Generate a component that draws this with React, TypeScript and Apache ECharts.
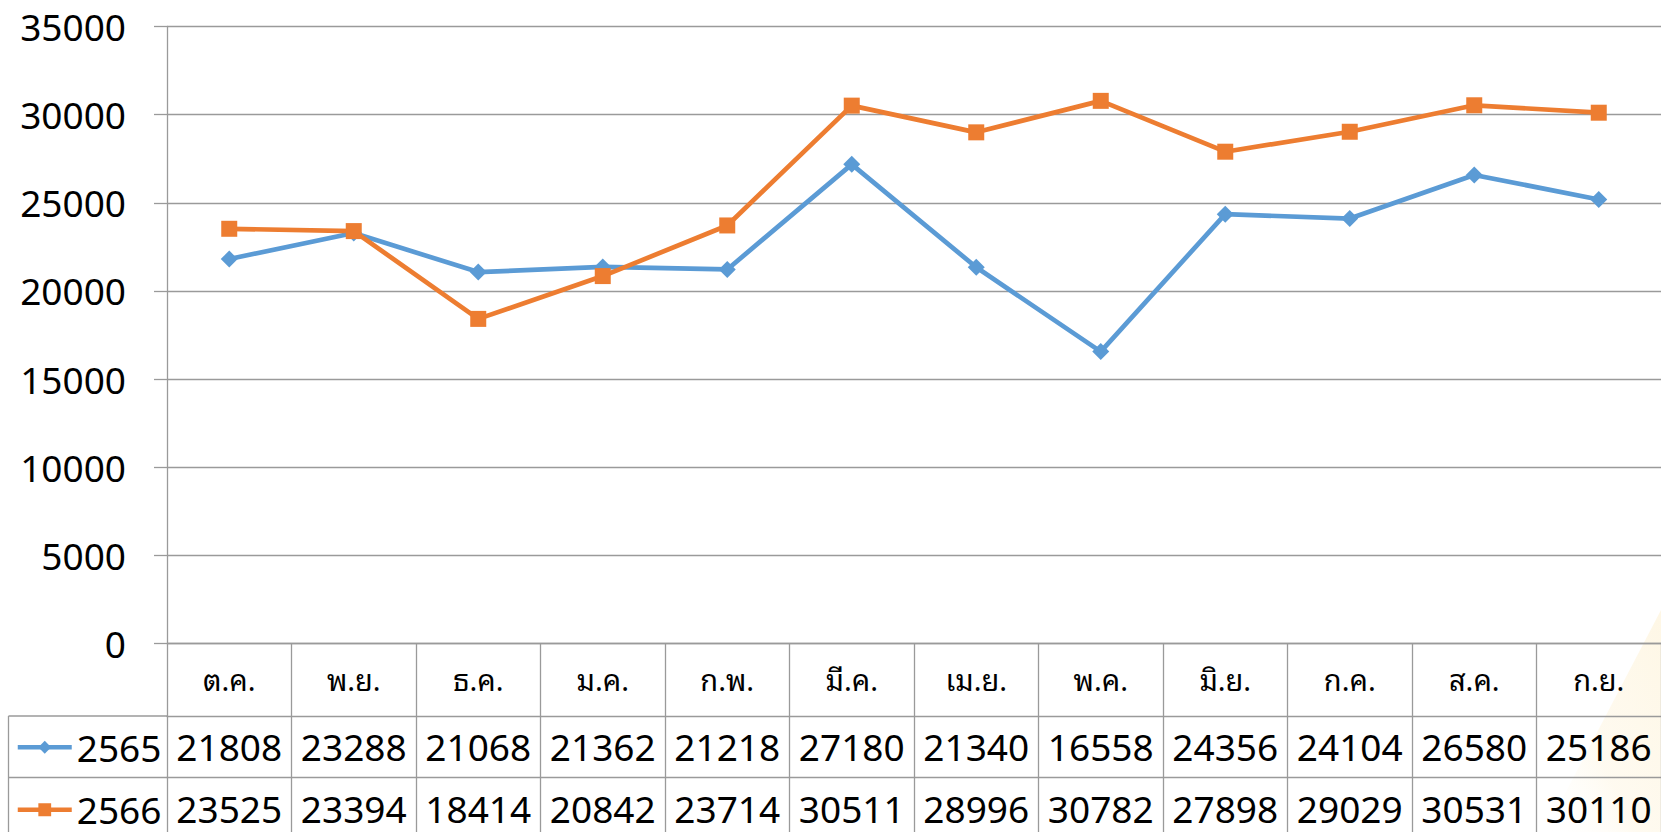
import React, { useEffect, useRef } from "react";
import * as echarts from "echarts";

const months = ["ต.ค.", "พ.ย.", "ธ.ค.", "ม.ค.", "ก.พ.", "มี.ค.", "เม.ย.", "พ.ค.", "มิ.ย.", "ก.ค.", "ส.ค.", "ก.ย."];
const seriesNames = ["2565", "2566"];
const values2565 = [21808, 23288, 21068, 21362, 21218, 27180, 21340, 16558, 24356, 24104, 26580, 25186];
const values2566 = [23525, 23394, 18414, 20842, 23714, 30511, 28996, 30782, 27898, 29029, 30531, 30110];
const yMin = 0;
const yMax = 35000;
const yStep = 5000;

const BLUE = "#5b9bd5";
const ORANGE = "#ed7d31";
const GRAY = "#9a9a9a";
const NUM_FONT = "'Noto Sans', 'Open Sans', sans-serif";
const THAI_FONT = "'Noto Sans Thai Looped', 'Noto Sans Thai', Tahoma, 'Noto Sans', sans-serif";

const W = 1661;
const H = 832;
const GRID_LEFT = 167;
const GRID_TOP = 26.5;
const GRID_BOTTOM_Y = 643.5;
const COL_W = 125.4;
const CAT_ROW_H = 72.5;
const DATA_ROW_H = 61.5;

export default function App() {
  const ref = useRef<HTMLDivElement>(null);
  useEffect(() => {
    if (!ref.current) return;
    const chart = echarts.init(ref.current, null, { renderer: "svg" });
    const row1Y = GRID_BOTTOM_Y + CAT_ROW_H;
    const row2Y = row1Y + DATA_ROW_H;
    const tableAxis = (data: string[], offset: number, tickLen: number, fontSize: number, family: string, margin: number) => ({
      type: "category",
      gridIndex: 0,
      position: "bottom",
      offset,
      data,
      boundaryGap: true,
      axisLine: { show: true, lineStyle: { color: GRAY, width: 1.3 } },
      axisTick: { show: true, length: tickLen, interval: 0, lineStyle: { color: GRAY, width: 1.3 } },
      axisLabel: {
        interval: 0,
        margin,
        fontSize,
        lineHeight: fontSize,
        fontFamily: family,
        color: "#000",
        verticalAlign: "middle",
      },
      splitLine: { show: false },
    });
    chart.setOption({
      animation: false,
      backgroundColor: "#ffffff",
      grid: {
        left: GRID_LEFT,
        top: GRID_TOP,
        width: COL_W * months.length,
        height: GRID_BOTTOM_Y - GRID_TOP,
        containLabel: false,
      },
      legend: {
        orient: "vertical",
        left: 15.5,
        top: row1Y + DATA_ROW_H / 2 - 18,
        padding: 0,
        itemWidth: 54,
        itemHeight: 16,
        itemGap: DATA_ROW_H - 36,
        data: seriesNames,
        lineStyle: { width: 4.5 },
        textStyle: { fontSize: 37, fontFamily: NUM_FONT, color: "#000", lineHeight: 36 },
      },
      xAxis: [
        tableAxis(months, 0, CAT_ROW_H, 29, THAI_FONT, CAT_ROW_H / 2 - 2),
        tableAxis(values2565.map(String), CAT_ROW_H, DATA_ROW_H, 37, NUM_FONT, DATA_ROW_H / 2),
        tableAxis(values2566.map(String), CAT_ROW_H + DATA_ROW_H, DATA_ROW_H + 10, 37, NUM_FONT, DATA_ROW_H / 2),
      ],
      yAxis: {
        type: "value",
        min: yMin,
        max: yMax,
        interval: yStep,
        axisLine: { show: true, lineStyle: { color: GRAY, width: 1.3 } },
        axisTick: { show: true, length: 13, lineStyle: { color: GRAY, width: 1.3 } },
        axisLabel: {
          fontSize: 37,
          fontFamily: NUM_FONT,
          color: "#000",
          margin: 41,
          formatter: (v: number) => String(v),
        },
        splitLine: { show: true, lineStyle: { color: GRAY, width: 1.3 } },
      },
      series: [
        {
          name: seriesNames[0],
          type: "line",
          xAxisIndex: 0,
          data: values2565,
          symbol: "diamond",
          symbolSize: 17,
          showAllSymbol: true,
          itemStyle: { color: BLUE },
          lineStyle: { color: BLUE, width: 4.7 },
        },
        {
          name: seriesNames[1],
          type: "line",
          xAxisIndex: 0,
          data: values2566,
          symbol: "rect",
          symbolSize: 16,
          showAllSymbol: true,
          itemStyle: { color: ORANGE },
          lineStyle: { color: ORANGE, width: 4.7 },
        },
      ],
      graphic: [
        {
          type: "polygon",
          z: -10,
          silent: true,
          shape: { points: [[W, 610], [W, H], [1545, H]] },
          style: {
            fill: new echarts.graphic.LinearGradient(1, 0, 0, 1, [
              { offset: 0, color: "rgba(252,228,170,0.3)" },
              { offset: 0.6, color: "rgba(253,236,195,0.25)" },
              { offset: 1, color: "rgba(255,255,255,0)" },
            ]),
          },
        },
        {
          type: "line",
          silent: true,
          shape: { x1: 8.5, y1: row1Y, x2: GRID_LEFT, y2: row1Y },
          style: { stroke: GRAY, lineWidth: 1.3 },
        },
        {
          type: "line",
          silent: true,
          shape: { x1: 8.5, y1: row2Y, x2: GRID_LEFT, y2: row2Y },
          style: { stroke: GRAY, lineWidth: 1.3 },
        },
        {
          type: "line",
          silent: true,
          shape: { x1: 8.5, y1: row1Y, x2: 8.5, y2: H + 20 },
          style: { stroke: GRAY, lineWidth: 1.3 },
        },
      ],
    });
    return () => chart.dispose();
  }, []);
  return (
    <div
      ref={ref}
      style={{ position: "absolute", left: 0, top: 0, width: W, height: H, background: "#fff" }}
    />
  );
}
